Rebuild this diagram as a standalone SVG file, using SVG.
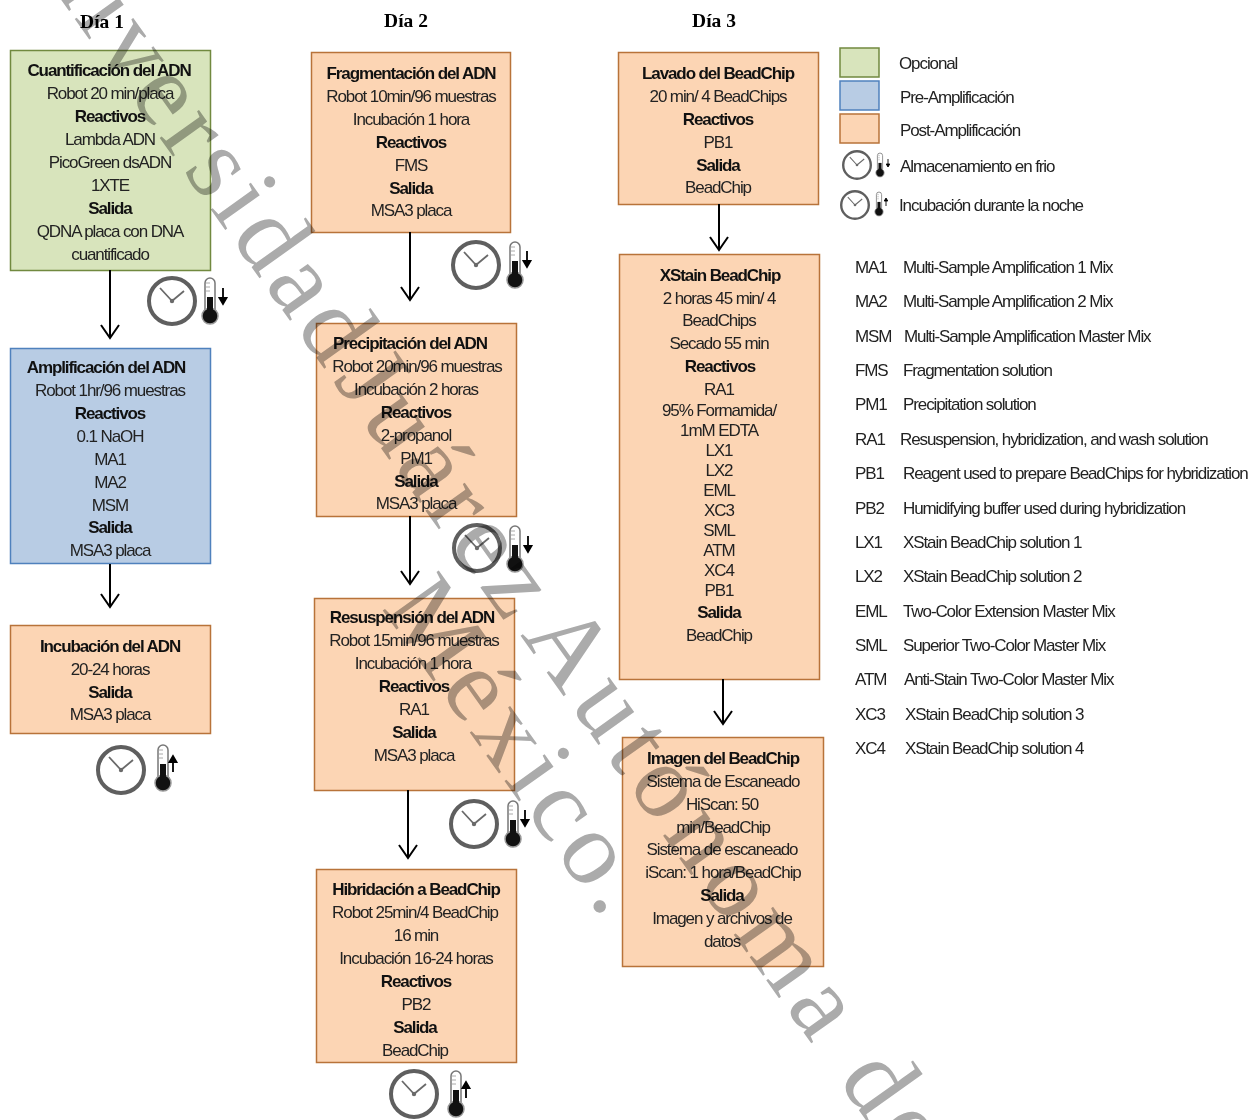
<svg xmlns="http://www.w3.org/2000/svg" width="1255" height="1120" viewBox="0 0 1255 1120">
<style>
text{font-family:"Liberation Sans",Arial,sans-serif;font-size:17px;fill:#222;letter-spacing:-1.1px}
.c{text-anchor:middle}
.b{font-weight:700;fill:#111}
.d{font-family:"Liberation Serif","Times New Roman",serif;font-weight:700;font-size:19.500px;fill:#000;letter-spacing:0;text-anchor:middle}
.g{fill:#d8e4bc;stroke:#71893f;stroke-width:1.5}
.u{fill:#b8cce4;stroke:#4f81bd;stroke-width:1.5}
.o{fill:#fcd5b4;stroke:#b8733a;stroke-width:1.5}
.l{fill:none;stroke:#000;stroke-width:2}
.wm{font-family:"Liberation Serif","Times New Roman",serif;font-size:105px;fill:#ababab;letter-spacing:6px;mix-blend-mode:multiply}
</style>
<defs>
<g id="clock"><circle r="23" fill="#fff" stroke="#5f5f5f" stroke-width="4"/><path d="M0 0L-12-13M0 0L12-10" fill="none" stroke="#6a6a6a" stroke-width="1.800"/><circle r="2.200" fill="#6a6a6a"/></g>
<g id="thermo"><rect x="-5" y="-23" width="10" height="36" rx="5" fill="#fff" stroke="#777" stroke-width="1.500"/><circle cy="15" r="8" fill="#111" stroke="#999" stroke-width="1.500"/><rect x="-3" y="-4" width="6" height="18" fill="#111"/><path d="M-4-18h4M-4-14h4M-4-10h4" stroke="#aaa" stroke-width="1"/></g>
<path id="ad" d="M0-8V5M-3.500 2L0 8L3.500 2z" fill="#000" stroke="#000" stroke-width="1.800"/>
<path id="au" d="M0 8V-5M-3.500-2L0-8L3.500-2z" fill="#000" stroke="#000" stroke-width="1.800"/>
</defs>

<g id="day-labels"><text class="d" x="102" y="28">Día 1</text><text class="d" x="406" y="27">Día 2</text><text class="d" x="714" y="27">Día 3</text></g>

<g id="node-cuantificacion"><rect class="g" x="10.500" y="50.500" width="200" height="220"/>
<text class="c b" x="109" y="76">Cuantificación del ADN</text><text class="c" x="110" y="99">Robot 20 min/placa</text><text class="c b" x="110" y="122">Reactivos</text><text class="c" x="110" y="145">Lambda ADN</text><text class="c" x="110" y="168">PicoGreen dsADN</text><text class="c" x="110" y="191">1XTE</text><text class="c b" x="110" y="214">Salida</text><text class="c" x="110" y="237">QDNA placa con DNA</text><text class="c" x="110" y="260">cuantificado</text></g>

<g id="node-amplificacion"><rect class="u" x="10.500" y="348.500" width="200" height="215"/>
<text class="c b" x="106" y="373">Amplificación del ADN</text><text class="c" x="110" y="396">Robot 1hr/96 muestras</text><text class="c b" x="110" y="419">Reactivos</text><text class="c" x="110" y="442">0.1 NaOH</text><text class="c" x="110" y="465">MA1</text><text class="c" x="110" y="488">MA2</text><text class="c" x="110" y="511">MSM</text><text class="c b" x="110" y="533">Salida</text><text class="c" x="110" y="556">MSA3 placa</text></g>

<g id="node-incubacion"><rect class="o" x="10.500" y="625.500" width="200" height="108"/>
<text class="c b" x="110" y="652">Incubación del ADN</text><text class="c" x="110" y="675">20-24 horas</text><text class="c b" x="110" y="698">Salida</text><text class="c" x="110" y="720">MSA3 placa</text></g>

<g id="node-fragmentacion"><rect class="o" x="311.500" y="52.500" width="199" height="180"/>
<text class="c b" x="411" y="79">Fragmentación del ADN</text><text class="c" x="411" y="102">Robot 10min/96 muestras</text><text class="c" x="411" y="125">Incubación 1 hora</text><text class="c b" x="411" y="148">Reactivos</text><text class="c" x="411" y="171">FMS</text><text class="c b" x="411" y="194">Salida</text><text class="c" x="411" y="216">MSA3 placa</text></g>

<g id="node-precipitacion"><rect class="o" x="316.500" y="323.500" width="200" height="193"/>
<text class="c b" x="410" y="349">Precipitación del ADN</text><text class="c" x="417" y="372">Robot 20min/96 muestras</text><text class="c" x="416" y="395">Incubación 2 horas</text><text class="c b" x="416" y="418">Reactivos</text><text class="c" x="416" y="441">2-propanol</text><text class="c" x="416" y="464">PM1</text><text class="c b" x="416" y="487">Salida</text><text class="c" x="416" y="509">MSA3 placa</text></g>

<g id="node-resuspension"><rect class="o" x="314.500" y="598.500" width="200" height="192"/>
<text class="c b" x="412" y="623">Resuspensión del ADN</text><text class="c" x="414" y="646">Robot 15min/96 muestras</text><text class="c" x="413" y="669">Incubación 1 hora</text><text class="c b" x="414" y="692">Reactivos</text><text class="c" x="414" y="715">RA1</text><text class="c b" x="414" y="738">Salida</text><text class="c" x="414" y="761">MSA3 placa</text></g>

<g id="node-hibridacion"><rect class="o" x="316.500" y="869.500" width="200" height="193"/>
<text class="c b" x="416" y="895">Hibridación a BeadChip</text><text class="c" x="415" y="918">Robot 25min/4 BeadChip</text><text class="c" x="416" y="941">16 min</text><text class="c" x="416" y="964">Incubación 16-24 horas</text><text class="c b" x="416" y="987">Reactivos</text><text class="c" x="416" y="1010">PB2</text><text class="c b" x="415" y="1033">Salida</text><text class="c" x="415" y="1056">BeadChip</text></g>

<g id="node-lavado"><rect class="o" x="618.500" y="52.500" width="200" height="152"/>
<text class="c b" x="718" y="79">Lavado del BeadChip</text><text class="c" x="718" y="102">20 min/ 4 BeadChips</text><text class="c b" x="718" y="125">Reactivos</text><text class="c" x="718" y="148">PB1</text><text class="c b" x="718" y="171">Salida</text><text class="c" x="718" y="193">BeadChip</text></g>

<g id="node-xstain"><rect class="o" x="619.500" y="254.500" width="200" height="425"/>
<text class="c b" x="720" y="281">XStain BeadChip</text><text class="c" x="719" y="304">2 horas 45 min/ 4</text><text class="c" x="719" y="326">BeadChips</text><text class="c" x="719" y="349">Secado 55 min</text><text class="c b" x="720" y="372">Reactivos</text><text class="c" x="719" y="395">RA1</text><text class="c" x="719" y="416">95% Formamida/</text><text class="c" x="719" y="436">1mM EDTA</text><text class="c" x="719" y="456">LX1</text><text class="c" x="719" y="476">LX2</text><text class="c" x="719" y="496">EML</text><text class="c" x="719" y="516">XC3</text><text class="c" x="719" y="536">SML</text><text class="c" x="719" y="556">ATM</text><text class="c" x="719" y="576">XC4</text><text class="c" x="719" y="596">PB1</text><text class="c b" x="719" y="618">Salida</text><text class="c" x="719" y="641">BeadChip</text></g>

<g id="node-imagen"><rect class="o" x="622.500" y="737.500" width="201" height="229"/>
<text class="c b" x="723" y="764">Imagen del BeadChip</text><text class="c" x="723" y="787">Sistema de Escaneado</text><text class="c" x="722" y="810">HiScan: 50</text><text class="c" x="723" y="833">min/BeadChip</text><text class="c" x="722" y="855">Sistema de escaneado</text><text class="c" x="723" y="878">iScan: 1 hora/BeadChip</text><text class="c b" x="722" y="901">Salida</text><text class="c" x="722" y="924">Imagen y archivos de</text><text class="c" x="722" y="947">datos</text></g>

<g id="connectors">
<path class="l" d="M110 270V338M101 325L110 338L119 325"/>
<path class="l" d="M110 564V607M101 594L110 607L119 594"/>
<path class="l" d="M410 232V300M401 287L410 300L419 287"/>
<path class="l" d="M410 516V584M401 571L410 584L419 571"/>
<path class="l" d="M408 790V858M399 845L408 858L417 845"/>
<path class="l" d="M719 204V250M710 237L719 250L728 237"/>
<path class="l" d="M723 679V724M714 711L723 724L732 711"/>
</g>

<g id="icon-1"><use href="#clock" x="172" y="301"/><use href="#thermo" x="210" y="301"/><use href="#ad" x="223" y="296"/></g>
<g id="icon-2"><use href="#clock" x="476" y="265"/><use href="#thermo" x="515" y="265"/><use href="#ad" x="527" y="259"/></g>
<g id="icon-3"><use href="#clock" x="477" y="548"/><use href="#thermo" x="515" y="549"/><use href="#ad" x="528" y="544"/></g>
<g id="icon-4"><use href="#clock" x="474" y="824"/><use href="#thermo" x="513" y="824"/><use href="#ad" x="525" y="818"/></g>
<g id="icon-5"><use href="#clock" x="121" y="770"/><use href="#thermo" x="163" y="768"/><use href="#au" x="173" y="764"/></g>
<g id="icon-6"><use href="#clock" x="414" y="1094"/><use href="#thermo" x="456" y="1094"/><use href="#au" x="466" y="1090"/></g>

<g id="legend">
<rect class="g" x="840" y="48" width="39" height="29"/><rect class="u" x="840" y="81" width="39" height="29"/><rect class="o" x="840" y="114" width="39" height="29"/>
<text x="899" y="69">Opcional</text><text x="900" y="103">Pre-Amplificación</text><text x="900" y="136">Post-Amplificación</text><text x="900" y="172">Almacenamiento en frio</text><text x="899" y="211">Incubación durante la noche</text>
<use href="#clock" transform="translate(857 165) scale(.6)"/><use href="#thermo" transform="translate(880 165) scale(.52)"/><use href="#ad" transform="translate(888 163) scale(.5)"/>
<use href="#clock" transform="translate(855 205) scale(.6)"/><use href="#thermo" transform="translate(879 204) scale(.52)"/><use href="#au" transform="translate(886 202) scale(.5)"/>
</g>

<g id="abbreviations">
<text x="855" y="273">MA1</text><text x="903" y="273">Multi-Sample Amplification 1 Mix</text>
<text x="855" y="307">MA2</text><text x="903" y="307">Multi-Sample Amplification 2 Mix</text>
<text x="855" y="342">MSM</text><text x="904" y="342">Multi-Sample Amplification Master Mix</text>
<text x="855" y="376">FMS</text><text x="903" y="376">Fragmentation solution</text>
<text x="855" y="410">PM1</text><text x="903" y="410">Precipitation solution</text>
<text x="855" y="445">RA1</text><text x="900" y="445">Resuspension, hybridization, and wash solution</text>
<text x="855" y="479">PB1</text><text x="903" y="479">Reagent used to prepare BeadChips for hybridization</text>
<text x="855" y="514">PB2</text><text x="903" y="514">Humidifying buffer used during hybridization</text>
<text x="855" y="548">LX1</text><text x="903" y="548">XStain BeadChip solution 1</text>
<text x="855" y="582">LX2</text><text x="903" y="582">XStain BeadChip solution 2</text>
<text x="855" y="617">EML</text><text x="903" y="617">Two-Color Extension Master Mix</text>
<text x="855" y="651">SML</text><text x="903" y="651">Superior Two-Color Master Mix</text>
<text x="855" y="685">ATM</text><text x="904" y="685">Anti-Stain Two-Color Master Mix</text>
<text x="855" y="720">XC3</text><text x="905" y="720">XStain BeadChip solution 3</text>
<text x="855" y="754">XC4</text><text x="905" y="754">XStain BeadChip solution 4</text>
</g>

<g id="watermark">
<text class="wm" transform="translate(-8 -97) rotate(54.500)">Universidad <tspan dx="-25">Juárez</tspan></text>
<text class="wm" style="letter-spacing:8.500px" transform="translate(520 635) rotate(54.500)">Autónoma de</text>
<text class="wm" transform="translate(381 608) rotate(54.500)">México.</text>
</g>
</svg>
